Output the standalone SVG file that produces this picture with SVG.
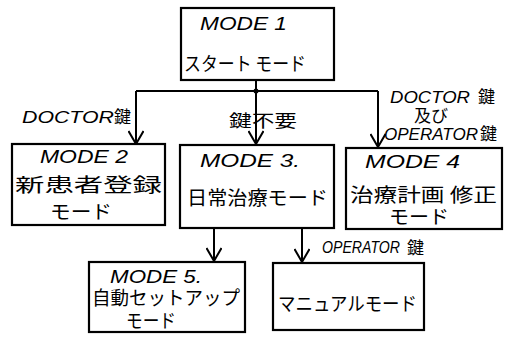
<svg xmlns="http://www.w3.org/2000/svg" width="512" height="339" viewBox="0 0 512 339">
<style>
.box{fill:#fff;stroke:#000;stroke-width:2.2}
.ln{fill:none;stroke:#000;stroke-width:2}
.m{font-family:"Liberation Sans",Arial,sans-serif;font-style:italic;font-size:19px;fill:#000}
.j{font-family:"Noto Sans CJK JP",sans-serif;font-size:19px;fill:#000}
.l{font-family:"Liberation Sans",Arial,sans-serif;font-style:italic;font-size:16px;fill:#000}
.lj{font-family:"Noto Sans CJK JP",sans-serif;font-size:17px;fill:#000}
</style>
<defs>
<marker id="a" viewBox="0 0 15 16" refX="14" refY="8" markerWidth="15" markerHeight="16" markerUnits="userSpaceOnUse" orient="auto">
<path d="M1,0.5 L14,8 L1,15.5" fill="none" stroke="#000" stroke-width="2"/>
</marker>
</defs>
<rect width="512" height="339" fill="#fff"/>
<g id="connectors">
<line class="ln" x1="256" y1="80" x2="256" y2="91"/>
<line class="ln" x1="136" y1="91" x2="378" y2="91"/>
<circle cx="256" cy="91" r="2.5" fill="#000"/>
<line class="ln" x1="136" y1="91" x2="136" y2="144" marker-end="url(#a)"/>
<line class="ln" x1="256" y1="91" x2="256" y2="144" marker-end="url(#a)"/>
<line class="ln" x1="378" y1="91" x2="378" y2="147" marker-end="url(#a)"/>
<line class="ln" x1="214" y1="228" x2="214" y2="261" marker-end="url(#a)"/>
<line class="ln" x1="302" y1="228" x2="302" y2="262" marker-end="url(#a)"/>
<text class="l" x="22" y="123" textLength="92" lengthAdjust="spacingAndGlyphs">DOCTOR</text>
<text class="lj" x="114" y="123">鍵</text>
<text class="lj" x="229" y="127" textLength="68" lengthAdjust="spacingAndGlyphs">鍵不要</text>
<text class="l" x="390" y="103" textLength="80" lengthAdjust="spacingAndGlyphs">DOCTOR</text>
<text class="lj" x="478" y="103">鍵</text>
<text class="lj" x="414" y="122" font-size="10">及び</text>
<text class="l" x="384" y="140" textLength="94" lengthAdjust="spacingAndGlyphs">OPERATOR</text>
<text class="lj" x="480" y="140">鍵</text>
<text class="l" x="322" y="253" font-size="14" textLength="78" lengthAdjust="spacingAndGlyphs">OPERATOR</text>
<text class="lj" x="407" y="254">鍵</text>
</g>
<g id="mode1">
<rect class="box" x="181" y="8" width="153" height="72"/>
<text class="m" x="200" y="30" textLength="87" lengthAdjust="spacingAndGlyphs">MODE 1</text>
<text class="j" x="184" y="71" textLength="122" lengthAdjust="spacingAndGlyphs">スタート モード</text>
</g>
<g id="mode2">
<rect class="box" x="12" y="144" width="153" height="81"/>
<text class="m" x="40" y="163" textLength="88" lengthAdjust="spacingAndGlyphs">MODE 2</text>
<text class="j" x="15" y="192" font-size="24" textLength="147" lengthAdjust="spacingAndGlyphs">新患者登録</text>
<text class="j" x="50" y="219" textLength="62" lengthAdjust="spacingAndGlyphs">モード</text>
</g>
<g id="mode3">
<rect class="box" x="180" y="145" width="154" height="83"/>
<text class="m" x="200" y="167" textLength="100" lengthAdjust="spacingAndGlyphs">MODE 3.</text>
<text class="j" x="187" y="205" font-size="20" textLength="141" lengthAdjust="spacingAndGlyphs">日常治療モード</text>
</g>
<g id="mode4">
<rect class="box" x="346" y="148" width="156" height="81"/>
<text class="m" x="365" y="168" textLength="95" lengthAdjust="spacingAndGlyphs">MODE 4</text>
<text class="j" x="350" y="202" font-size="20" textLength="147" lengthAdjust="spacingAndGlyphs">治療計画 修正</text>
<text class="j" x="389" y="224" font-size="17" textLength="60" lengthAdjust="spacingAndGlyphs">モード</text>
</g>
<g id="mode5">
<rect class="box" x="89" y="262" width="156" height="70"/>
<text class="m" x="110" y="283" textLength="92" lengthAdjust="spacingAndGlyphs">MODE 5.</text>
<text class="j" x="92" y="305" font-size="18" textLength="148" lengthAdjust="spacingAndGlyphs">自動セットアップ</text>
<text class="j" x="126" y="328" font-size="16" textLength="50" lengthAdjust="spacingAndGlyphs">モード</text>
</g>
<g id="manual">
<rect class="box" x="273" y="263" width="151" height="67"/>
<text class="j" x="278" y="311" font-size="18" textLength="139" lengthAdjust="spacingAndGlyphs">マニュアルモード</text>
</g>
</svg>
